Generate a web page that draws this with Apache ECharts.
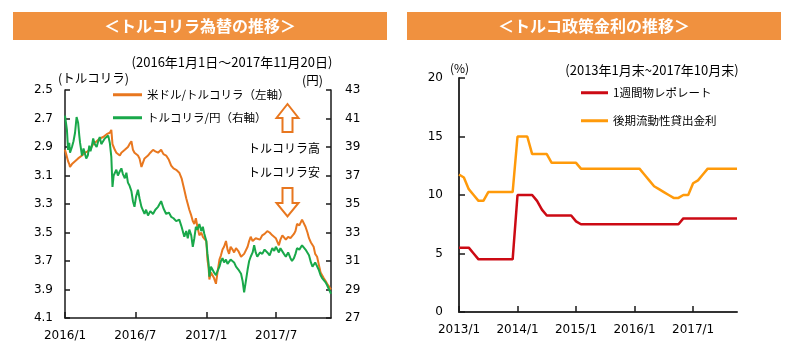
<!DOCTYPE html>
<html><head><meta charset="utf-8">
<script src="https://cdn.jsdelivr.net/npm/echarts@6/dist/echarts.min.js"></script>
<style>html,body{margin:0;padding:0;background:#fff}#c{width:800px;height:359px}</style>
</head><body><div id="c"></div>
<script>
// ---- Left chart: FX (2016/1/1 - 2017/11/20) ----
const fxDates = [
'2016-01-01','2016-01-04','2016-01-06','2016-01-09','2016-01-12','2016-01-14','2016-01-19','2016-01-23','2016-01-27','2016-01-31',
'2016-02-04','2016-02-07','2016-02-09','2016-02-14','2016-02-18','2016-02-22','2016-02-25','2016-02-29','2016-03-04','2016-03-07',
'2016-03-10','2016-03-14','2016-03-18','2016-03-23','2016-03-27','2016-03-31','2016-04-04','2016-04-09','2016-04-13','2016-04-18',
'2016-04-22','2016-04-26','2016-04-30','2016-05-03','2016-05-06','2016-05-09','2016-05-13','2016-05-17','2016-05-22','2016-05-26',
'2016-05-30','2016-06-04','2016-06-08','2016-06-12','2016-06-16','2016-06-21','2016-06-25','2016-06-29','2016-07-03','2016-07-08',
'2016-07-12','2016-07-17','2016-07-21','2016-07-25','2016-07-29','2016-08-03','2016-08-09','2016-08-16','2016-08-22','2016-08-29',
'2016-09-02','2016-09-06','2016-09-12','2016-09-19','2016-09-26','2016-10-02','2016-10-08','2016-10-15','2016-10-23','2016-10-29',
'2016-11-05','2016-11-10','2016-11-14','2016-11-18','2016-11-23','2016-11-27','2016-12-01','2016-12-05','2016-12-09','2016-12-14',
'2016-12-19','2016-12-23','2016-12-27','2017-01-01','2017-01-04','2017-01-07','2017-01-09','2017-01-13','2017-01-17','2017-01-21',
'2017-01-26','2017-01-30','2017-02-04','2017-02-08','2017-02-12','2017-02-16','2017-02-21','2017-02-25','2017-03-01','2017-03-05',
'2017-03-10','2017-03-14','2017-03-19','2017-03-25','2017-04-01','2017-04-05','2017-04-09','2017-04-13','2017-04-18','2017-04-22',
'2017-04-26','2017-05-01','2017-05-05','2017-05-09','2017-05-13','2017-05-20','2017-05-26','2017-06-01','2017-06-08','2017-06-14',
'2017-06-21','2017-06-26','2017-06-30','2017-07-04','2017-07-08','2017-07-12','2017-07-17','2017-07-21','2017-07-26','2017-08-01',
'2017-08-07','2017-08-11','2017-08-16','2017-08-20','2017-08-24','2017-08-30','2017-09-06','2017-09-10','2017-09-15','2017-09-20',
'2017-09-24','2017-09-29','2017-10-03','2017-10-06','2017-10-10','2017-10-15','2017-10-19','2017-10-24','2017-10-28','2017-11-01',
'2017-11-06','2017-11-10','2017-11-15','2017-11-20'];
const usdTry = [
2.92,2.95,2.96,3.00,3.02,3.04,3.02,3.01,3.00,2.99,
2.98,2.99,2.97,2.96,2.95,2.94,2.95,2.93,2.92,2.91,
2.90,2.88,2.89,2.86,2.87,2.84,2.85,2.83,2.84,2.81,
2.82,2.80,2.78,2.88,2.90,2.92,2.94,2.95,2.96,2.94,
2.95,2.92,2.91,2.90,2.88,2.86,2.92,2.94,2.93,2.96,
2.98,3.04,3.01,2.98,2.97,2.96,2.94,2.92,2.93,2.94,
2.93,2.92,2.95,2.96,2.99,3.03,3.05,3.06,3.08,3.12,
3.20,3.26,3.30,3.34,3.38,3.42,3.44,3.40,3.46,3.52,
3.50,3.53,3.52,3.56,3.69,3.75,3.83,3.78,3.80,3.82,
3.86,3.78,3.69,3.66,3.62,3.60,3.56,3.62,3.65,3.60,
3.62,3.64,3.61,3.63,3.67,3.66,3.65,3.66,3.60,3.56,
3.53,3.56,3.55,3.54,3.53,3.55,3.52,3.51,3.49,3.50,
3.52,3.51,3.54,3.55,3.59,3.55,3.52,3.53,3.55,3.53,
3.54,3.55,3.51,3.49,3.44,3.45,3.41,3.42,3.46,3.50,
3.54,3.57,3.58,3.60,3.65,3.67,3.72,3.78,3.80,3.82,
3.84,3.86,3.88,3.90];
const tryJpy = [
41.2,40.6,40.2,38.8,39.3,38.6,39.0,39.4,40.0,41.1,
40.7,39.8,39.3,38.4,38.9,38.8,38.2,38.4,39.1,38.7,
39.0,39.6,39.2,39.0,39.4,39.7,39.2,39.1,39.6,39.5,
39.8,39.3,38.3,36.2,37.0,36.9,37.4,37.0,37.3,37.5,
37.1,36.8,37.2,36.5,36.3,35.9,35.2,34.8,35.5,36.0,
35.4,34.8,34.9,34.3,34.6,34.2,34.5,34.3,34.6,34.8,
35.0,35.2,34.7,34.3,34.4,34.1,34.0,33.8,33.9,33.4,
32.7,33.1,32.6,33.2,32.8,32.0,32.6,33.4,33.2,33.6,
33.1,33.4,32.9,32.4,31.5,30.8,29.9,30.6,30.4,30.2,
30.0,30.3,30.6,31.0,31.2,30.9,31.1,30.8,30.7,31.1,
31.2,30.9,30.6,30.4,30.1,29.6,28.8,29.5,30.4,31.0,
31.3,31.6,32.1,31.6,31.3,31.6,31.5,31.8,31.6,31.4,
31.9,31.7,32.0,31.8,31.6,31.9,31.8,31.5,31.3,31.6,
31.2,31.0,31.2,31.5,31.9,31.8,32.1,32.2,31.8,31.9,
31.4,30.9,30.6,30.5,30.9,30.8,30.4,30.0,29.8,29.7,
29.5,29.3,29.0,28.7];
const fxLeftTicks = [2.5,2.7,2.9,3.1,3.3,3.5,3.7,3.9,4.1];
const fxRightTicks = [27,29,31,33,35,37,39,41,43];
const fxTickDates = ['2016-01-01','2016-07-01','2017-01-01','2017-07-01'];
const fxRange = ['2016-01-01','2017-11-20'];

// ---- Right chart: policy rates (2013/1 - 2017/10, month end) ----
const rateMonths = ['2013/1','2013/2','2013/3','2013/4','2013/5','2013/6','2013/7','2013/8','2013/9','2013/10','2013/11','2013/12',
'2014/1','2014/2','2014/3','2014/4','2014/5','2014/6','2014/7','2014/8','2014/9','2014/10','2014/11','2014/12',
'2015/1','2015/2','2015/3','2015/4','2015/5','2015/6','2015/7','2015/8','2015/9','2015/10','2015/11','2015/12',
'2016/1','2016/2','2016/3','2016/4','2016/5','2016/6','2016/7','2016/8','2016/9','2016/10','2016/11','2016/12',
'2017/1','2017/2','2017/3','2017/4','2017/5','2017/6','2017/7','2017/8','2017/9','2017/10'];
const repoRate = [5.5,5.5,5.5,5.0,4.5,4.5,4.5,4.5,4.5,4.5,4.5,4.5,
10,10,10,10,9.5,8.75,8.25,8.25,8.25,8.25,8.25,8.25,
7.75,7.5,7.5,7.5,7.5,7.5,7.5,7.5,7.5,7.5,7.5,7.5,
7.5,7.5,7.5,7.5,7.5,7.5,7.5,7.5,7.5,7.5,8.0,8.0,
8.0,8.0,8.0,8.0,8.0,8.0,8.0,8.0,8.0,8.0];
const lateLiquidity = [11.75,11.5,10.5,10.0,9.5,9.5,10.25,10.25,10.25,10.25,10.25,10.25,
15,15,15,13.5,13.5,13.5,13.5,12.75,12.75,12.75,12.75,12.75,
12.75,12.25,12.25,12.25,12.25,12.25,12.25,12.25,12.25,12.25,12.25,12.25,
12.25,12.25,11.75,11.25,10.75,10.5,10.25,10.0,9.75,9.75,10.0,10.0,
11.0,11.25,11.75,12.25,12.25,12.25,12.25,12.25,12.25,12.25];

const ts = s => { const p = s.split('-').map(Number); return new Date(p[0], p[1]-1, p[2]).getTime(); };
const JP = '"Noto Sans CJK JP"';
const NUM = '"DejaVu Sans"';
const ORANGE = '#E8771F', GREEN = '#19A84A', RED = '#CC0A14', AMBER = '#FF9A0A', BAND = '#F0913F';

const chart = echarts.init(document.getElementById('c'), null, {renderer: 'canvas'});
const axisLineStyle = {color: '#1a1a1a', width: 1.5};
const numLabel = {color: '#000', fontSize: 12, fontFamily: NUM};

const txt = (text, x, y, size, align) => ({
  type: 'text', silent: true,
  style: {text, x, y, font: size + 'px ' + JP, fill: '#000', textAlign: align || 'center', textVerticalAlign: 'middle'}
});

chart.setOption({
  animation: false,
  backgroundColor: '#fff',
  grid: [
    {left: 65, top: 90, width: 266, height: 228},
    {left: 459, top: 78, width: 278, height: 234}
  ],
  xAxis: [
    {type: 'value', gridIndex: 0, min: ts(fxRange[0]), max: ts(fxRange[1]),
     axisLine: {onZero: false, lineStyle: axisLineStyle},
     axisTick: {inside: true, length: 6, lineStyle: {color: '#1a1a1a', width: 1.5}, customValues: fxTickDates.map(ts)},
     axisLabel: Object.assign({}, numLabel, {margin: 12, customValues: fxTickDates.map(ts),
       formatter: v => { const d = new Date(v); return d.getFullYear() + '/' + (d.getMonth() + 1); }}),
     splitLine: {show: false}},
    {type: 'category', gridIndex: 1, data: rateMonths, boundaryGap: false,
     axisLine: {onZero: false, lineStyle: {color: '#333', width: 2}},
     axisTick: {inside: true, length: 6, interval: 11, lineStyle: {color: '#1a1a1a', width: 1.5}},
     axisLabel: Object.assign({}, numLabel, {margin: 12, interval: 11}),
     splitLine: {show: false}}
  ],
  yAxis: [
    {type: 'value', gridIndex: 0, position: 'left', inverse: true, min: 2.5, max: 4.1,
     axisLine: {show: true, onZero: false, lineStyle: axisLineStyle},
     axisTick: {show: true, inside: true, length: 5, lineStyle: {color: '#1a1a1a', width: 1.5}, customValues: fxLeftTicks},
     axisLabel: Object.assign({}, numLabel, {margin: 12, customValues: fxLeftTicks, formatter: v => Number(v).toFixed(1)}),
     splitLine: {show: false}},
    {type: 'value', gridIndex: 0, position: 'right', min: 27, max: 43,
     axisLine: {show: true, onZero: false, lineStyle: axisLineStyle},
     axisTick: {show: true, inside: true, length: 5, lineStyle: {color: '#1a1a1a', width: 1.5}, customValues: fxRightTicks},
     axisLabel: Object.assign({}, numLabel, {margin: 14, customValues: fxRightTicks}),
     splitLine: {show: false}},
    {type: 'value', gridIndex: 1, min: 0, max: 20, interval: 5,
     axisLine: {show: true, onZero: false, lineStyle: {color: '#333', width: 2}},
     axisTick: {show: true, inside: true, length: 6, lineStyle: {color: '#1a1a1a', width: 1.5}},
     axisLabel: Object.assign({}, numLabel, {margin: 16}),
     splitLine: {show: false}}
  ],
  legend: [
    {data: ['米ドル/トルコリラ（左軸）'], left: 113, top: 89, padding: 0, icon: 'rect', itemWidth: 29, itemHeight: 3,
     textStyle: {fontFamily: JP, fontSize: 11.5, color: '#000'}, selectedMode: false},
    {data: ['トルコリラ/円（右軸）'], left: 113, top: 112, padding: 0, icon: 'rect', itemWidth: 29, itemHeight: 3,
     textStyle: {fontFamily: JP, fontSize: 11.5, color: '#000'}, selectedMode: false},
    {data: ['1週間物レポレート'], left: 581, top: 87, padding: 0, icon: 'rect', itemWidth: 27, itemHeight: 3,
     textStyle: {fontFamily: JP, fontSize: 11.5, color: '#000'}, selectedMode: false},
    {data: ['後期流動性貸出金利'], left: 581, top: 115, padding: 0, icon: 'rect', itemWidth: 27, itemHeight: 3,
     textStyle: {fontFamily: JP, fontSize: 11.5, color: '#000'}, selectedMode: false}
  ],
  series: [
    {name: '米ドル/トルコリラ（左軸）', type: 'line', xAxisIndex: 0, yAxisIndex: 0, showSymbol: false,
     lineStyle: {color: ORANGE, width: 2}, itemStyle: {color: ORANGE}, z: 3,
     data: fxDates.map((d, i) => [ts(d), usdTry[i]])},
    {name: 'トルコリラ/円（右軸）', type: 'line', xAxisIndex: 0, yAxisIndex: 1, showSymbol: false,
     lineStyle: {color: GREEN, width: 2}, itemStyle: {color: GREEN}, z: 4,
     data: fxDates.map((d, i) => [ts(d), tryJpy[i]])},
    {name: '1週間物レポレート', type: 'line', xAxisIndex: 1, yAxisIndex: 2, showSymbol: false,
     lineStyle: {color: RED, width: 2.5}, itemStyle: {color: RED}, data: repoRate},
    {name: '後期流動性貸出金利', type: 'line', xAxisIndex: 1, yAxisIndex: 2, showSymbol: false,
     lineStyle: {color: AMBER, width: 2.5}, itemStyle: {color: AMBER}, data: lateLiquidity}
  ],
  graphic: [
    {type: 'rect', silent: true, shape: {x: 13, y: 12, width: 374, height: 28}, style: {fill: BAND}},
    {type: 'rect', silent: true, shape: {x: 407, y: 12, width: 374, height: 28}, style: {fill: BAND}},
    {type: 'text', silent: true, style: {text: '＜トルコリラ為替の推移＞', x: 200, y: 26, font: 'bold 16px ' + JP, fill: '#fff', textAlign: 'center', textVerticalAlign: 'middle'}},
    {type: 'text', silent: true, style: {text: '＜トルコ政策金利の推移＞', x: 594, y: 26, font: 'bold 16px ' + JP, fill: '#fff', textAlign: 'center', textVerticalAlign: 'middle'}},
    txt('(2016年1月1日～2017年11月20日)', 232, 62, 13),
    txt('(トルコリラ)', 58, 78, 12.5, 'left'),
    txt('(円)', 302, 80, 12.5, 'left'),
    txt('トルコリラ高', 284, 148, 12),
    txt('トルコリラ安', 284, 172, 12),
    {type: 'polygon', silent: true, shape: {points: [[287.5,104],[298.5,118],[292.5,118],[292.5,132],[282.5,132],[282.5,118],[276.5,118]]},
     style: {fill: '#fff', stroke: ORANGE, lineWidth: 2}},
    {type: 'polygon', silent: true, shape: {points: [[282.5,188],[292.5,188],[292.5,203],[298.5,203],[287.5,216.5],[276.5,203],[282.5,203]]},
     style: {fill: '#fff', stroke: ORANGE, lineWidth: 2}},
    txt('(%)', 450, 68, 12, 'left'),
    txt('(2013年1月末~2017年10月末)', 652, 70, 13)
  ]
});
</script>
</body></html>
